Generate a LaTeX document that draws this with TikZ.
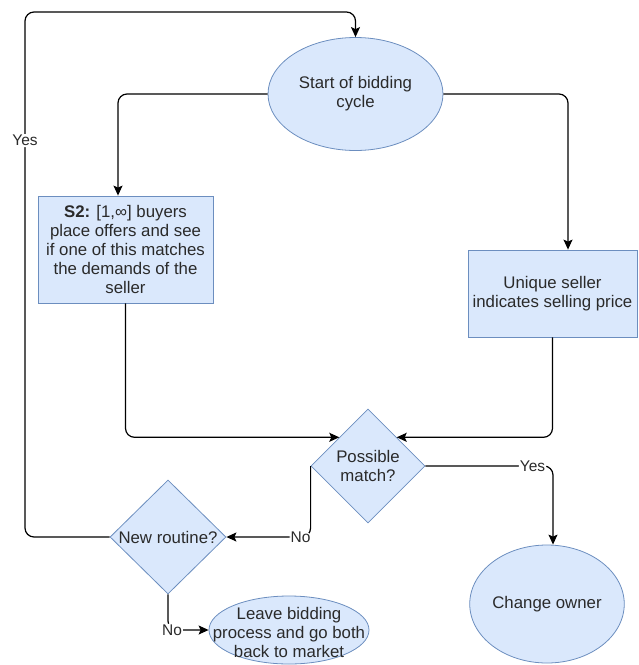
\documentclass[tikz,border=0pt]{standalone}
\usepackage{fontspec}
\setmainfont{Liberation Sans}
\usetikzlibrary{shapes.geometric,arrows.meta,calc}
\definecolor{fillb}{HTML}{DAE8FC}
\definecolor{drawb}{HTML}{6C8EBF}
\definecolor{txtc}{HTML}{2A2A2A}
\begin{document}
\begin{tikzpicture}[x=1pt,y=-1pt,
  every node/.style={font=\fontsize{16.8}{19}\selectfont, text=txtc},
  shp/.style={draw=drawb, fill=fillb, line width=0.8pt, inner sep=0pt, align=center},
  ell/.style={shp, ellipse},
  dia/.style={shp, diamond, aspect=1},
  rbox/.style={shp, rectangle},
  conn/.style={draw=black, line width=1.2pt, rounded corners=9pt, -{Stealth[length=10pt,width=9pt,inset=2pt]}},
  lab/.style={fill=white, inner sep=1pt, font=\fontsize{15.5}{18}\selectfont}]
\useasboundingbox (0,0) rectangle (639,665);

\node[ell, minimum width=175pt, minimum height=113pt] (start) at (355.5,94) {Start of bidding\\cycle};
\node[rbox, minimum width=175pt, minimum height=107pt] (s2) at (125.5,249.5) {\textbf{S2:} [1,∞] buyers\\place offers and see\\if one of this matches\\the demands of the\\seller};
\node[rbox, minimum width=169pt, minimum height=87pt] (uniq) at (552.5,293.5) {Unique seller\\indicates selling price};
\node[dia, minimum width=114pt, minimum height=114pt] (pm) at (368,466) {Possible\\match?};
\node[dia, minimum width=116pt, minimum height=114pt] (nr) at (168,537) {\makebox[0pt]{New routine?}};
\node[ell, minimum width=152pt, minimum height=118pt] (change) at (547,604) {Change owner};
\node[ell, minimum width=160pt, minimum height=68pt] (leave) at (289,630) {};
\node[align=center, inner sep=0pt] (leavetxt) at (289,632) {Leave bidding\\process and go both\\back to market};

\coordinate (pmnw) at ($(pm.north)!0.5!(pm.west)$);
\coordinate (pmne) at ($(pm.north)!0.5!(pm.east)$);
\coordinate (bl) at (25,537);
\coordinate (tl) at (25,12);

\draw[conn] (start.west) -| ([xshift=-7.5pt]s2.north);
\draw[conn] (start.east) -| ([xshift=15.5pt]uniq.north);
\draw[conn] (s2.south) |- (pmnw);
\draw[conn] (uniq.south) |- (pmne);
\draw[conn] (pm.east) -| node[lab, pos=0.42] {Yes} ([xshift=6pt]change.north);
\draw[conn] (pm.west) |- node[lab, pos=0.56] {No} (nr.east);
\draw[conn] (nr.west) -- (bl) -- node[lab, pos=0.755] {Yes} (tl) -| (start.north);
\draw[conn] (nr.south) |- node[lab, pos=0.55] {No} (leave.west);
\end{tikzpicture}
\end{document}
